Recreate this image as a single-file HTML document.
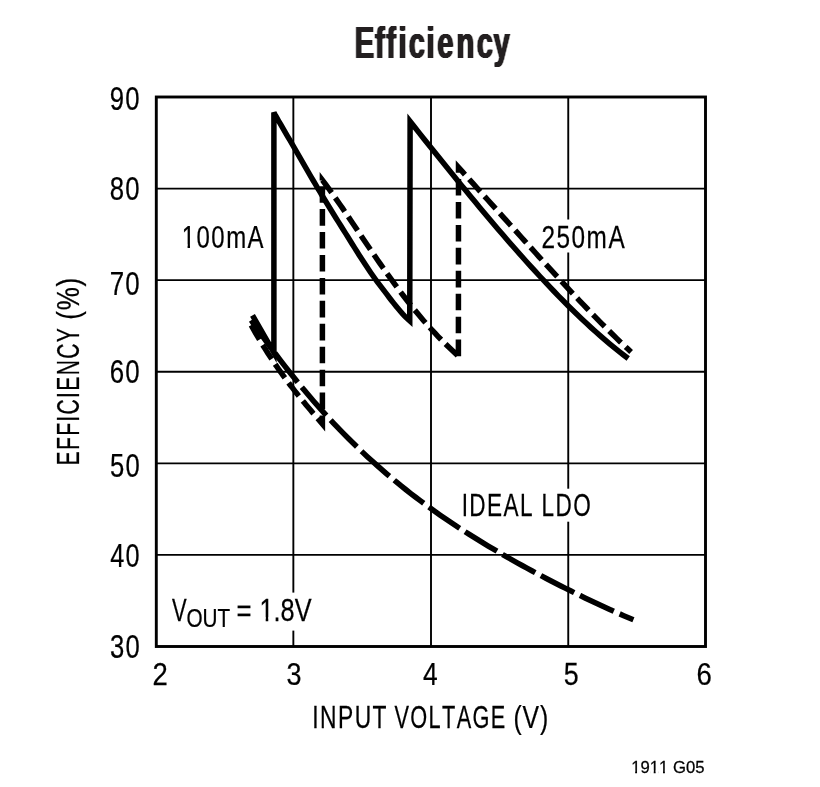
<!DOCTYPE html>
<html lang="en"><head><meta charset="utf-8"><title>Efficiency</title>
<style>
html,body{margin:0;padding:0;background:#fff;}
svg{display:block;}
text{font-family:"Liberation Sans",sans-serif;fill:#231f20;font-kerning:none;}
.t text{fill:#000;stroke:#000;stroke-width:0.25;}
.g line{stroke:#000;stroke-width:1.9;}
.c{fill:none;stroke:#000;stroke-width:5.5;stroke-linejoin:miter;stroke-miterlimit:4;stroke-linecap:butt;}
</style></head><body>
<svg width="820" height="787" viewBox="0 0 820 787">
<defs><filter id="bx" x="-5%" y="-10%" width="110%" height="120%" color-interpolation-filters="sRGB"><feConvolveMatrix in="SourceAlpha" order="3 1" kernelMatrix="0.55 1 0.55" divisor="1" edgeMode="none" result="a"/><feFlood flood-color="#231f20"/><feComposite operator="in" in2="a"/></filter></defs>
<rect width="820" height="787" fill="#fff"/>
<text transform="translate(0,57.8) scale(0.65,1)" x="545.94 577.05 594.36 613.04 628.98 656.27 672.86 702.47 733.60 759.40" font-size="45" font-weight="bold" filter="url(#bx)">Efficiency</text>
<g class="g"><line x1="293.35" y1="97.0" x2="293.35" y2="646.5"/><line x1="431.00" y1="97.0" x2="431.00" y2="646.5"/><line x1="568.25" y1="97.0" x2="568.25" y2="646.5"/><line x1="156.5" y1="188.58" x2="705.5" y2="188.58"/><line x1="156.5" y1="280.17" x2="705.5" y2="280.17"/><line x1="156.5" y1="371.75" x2="705.5" y2="371.75"/><line x1="156.5" y1="463.33" x2="705.5" y2="463.33"/><line x1="156.5" y1="554.92" x2="705.5" y2="554.92"/></g>
<rect x="540" y="219.5" width="88" height="33" fill="#fff"/>
<rect x="461" y="488.7" width="132" height="33" fill="#fff"/>
<rect x="169" y="592.6" width="146" height="38" fill="#fff"/>
<rect x="156.3" y="97.0" width="549.2" height="549.5" fill="none" stroke="#000" stroke-width="2.9"/>
<g class="t">
<text transform="translate(109.84,110.20) scale(0.7905,1)" font-size="32.6" letter-spacing="1.5">90</text>
<text transform="translate(109.84,200.10) scale(0.7905,1)" font-size="32.6" letter-spacing="1.5">80</text>
<text transform="translate(109.71,295.10) scale(0.7942,1)" font-size="32.6" letter-spacing="1.5">70</text>
<text transform="translate(109.71,383.10) scale(0.7942,1)" font-size="32.6" letter-spacing="1.5">60</text>
<text transform="translate(109.97,477.10) scale(0.7868,1)" font-size="32.6" letter-spacing="1.5">50</text>
<text transform="translate(110.37,566.80) scale(0.7760,1)" font-size="32.6" letter-spacing="1.5">40</text>
<text transform="translate(109.97,658.20) scale(0.7868,1)" font-size="32.6" letter-spacing="1.5">30</text>
<text transform="translate(152.53,685.00) scale(0.8585,1)" font-size="32">2</text>
<text transform="translate(286.52,685.00) scale(0.8444,1)" font-size="32">3</text>
<text transform="translate(422.94,685.00) scale(0.8250,1)" font-size="32">4</text>
<text transform="translate(563.68,685.00) scale(0.8388,1)" font-size="32">5</text>
<text transform="translate(696.62,685.00) scale(0.8628,1)" font-size="32">6</text>
<text transform="translate(181.70,247.90) scale(0.7485,1)" font-size="32" letter-spacing="2">100mA</text>
<rect transform="translate(181.70,247.90) scale(0.7485,1)" x="1.60" y="-3.42" width="6.23" height="4.82" fill="#fff"/><rect transform="translate(181.70,247.90) scale(0.7485,1)" x="11.08" y="-3.42" width="6.08" height="4.82" fill="#fff"/>
<text transform="translate(541.48,247.90) scale(0.7606,1)" font-size="32" letter-spacing="2">250mA</text>
<text transform="translate(461.67,516.10) scale(0.7050,1)" font-size="32" letter-spacing="2">IDEAL LDO</text>
<text transform="translate(171.99,620.70) scale(0.6870,1)" font-size="32">V</text>
<text transform="translate(186.47,627.30) scale(0.7974,1)" font-size="26">OUT</text>
<text transform="translate(236.61,620.70) scale(0.8054,1)" font-size="32">=</text>
<text transform="translate(259.50,620.70) scale(0.7911,1)" font-size="32">1.8V</text>
<rect transform="translate(259.50,620.70) scale(0.7911,1)" x="1.60" y="-3.42" width="6.23" height="4.82" fill="#fff"/><rect transform="translate(259.50,620.70) scale(0.7911,1)" x="11.08" y="-3.42" width="6.08" height="4.82" fill="#fff"/>
<text transform="translate(312.34,727.90) scale(0.7136,1)" font-size="32" letter-spacing="2">INPUT</text>
<text transform="translate(394.49,727.90) scale(0.6795,1)" font-size="32" letter-spacing="2">VOLTAGE</text>
<text transform="translate(513.61,727.90) scale(0.7736,1)" font-size="32" letter-spacing="1">(V)</text>
<text transform="translate(79.00,465.49) rotate(-90) scale(0.6601,1)" font-size="32" letter-spacing="2">EFFICIENCY</text>
<text transform="translate(79.00,319.76) rotate(-90) scale(0.8103,1)" font-size="32" letter-spacing="1">(%)</text>
</g>
<g class="t"><text transform="translate(631.15,772.80) scale(1.0122,1)" font-size="16.5">1911 G05</text>
<rect transform="translate(631.15,772.80) scale(1.0122,1)" x="0.83" y="-2.25" width="3.12" height="3.65" fill="#fff"/><rect transform="translate(631.15,772.80) scale(1.0122,1)" x="5.81" y="-2.25" width="3.14" height="3.65" fill="#fff"/>
<rect transform="translate(631.15,772.80) scale(1.0122,1)" x="19.18" y="-2.25" width="3.12" height="3.65" fill="#fff"/><rect transform="translate(631.15,772.80) scale(1.0122,1)" x="24.16" y="-2.25" width="3.14" height="3.65" fill="#fff"/>
<rect transform="translate(631.15,772.80) scale(1.0122,1)" x="28.35" y="-2.25" width="3.12" height="3.65" fill="#fff"/><rect transform="translate(631.15,772.80) scale(1.0122,1)" x="33.34" y="-2.25" width="3.14" height="3.65" fill="#fff"/>
</g>
<path class="c" d="M251.20,320.20 L256.04,327.13 L260.88,333.95 L265.71,340.66 L270.55,347.26 L270.85,347.67 M274.68,352.80 L275.39,353.75 L280.23,360.12 L285.07,366.39 L289.90,372.54 L294.74,378.59 L297.73,382.25 M301.80,387.19 L304.42,390.34 L309.26,396.06 L314.09,401.67 L318.93,407.17 L323.77,412.57 L326.35,415.39 M330.69,420.10 L333.45,423.05 L338.28,428.14 L343.12,433.13 L347.96,438.02 L352.80,442.82 L356.88,446.79 M361.51,451.21 L362.47,452.13 L367.31,456.65 L372.15,461.08 L376.99,465.42 L381.83,469.68 L386.66,473.85 L389.38,476.15 M394.28,480.25 L396.34,481.96 L401.18,485.90 L406.02,489.76 L410.85,493.55 L415.69,497.27 L420.53,500.92 L423.74,503.30 M428.90,507.08 L430.21,508.03 L435.04,511.49 L439.88,514.89 L444.72,518.23 L449.56,521.52 L454.39,524.75 L459.23,527.94 L459.72,528.25 M465.10,531.73 L468.91,534.16 L473.75,537.20 L478.58,540.20 L483.42,543.15 L488.26,546.07 L493.10,548.95 L497.00,551.24 M502.54,554.45 L502.77,554.59 L507.61,557.36 L512.45,560.10 L517.29,562.81 L522.13,565.49 L526.96,568.14 L531.80,570.76 L535.23,572.60 M540.88,575.61 L541.48,575.93 L546.32,578.47 L551.15,580.99 L555.99,583.48 L560.83,585.95 L565.67,588.40 L570.51,590.82 L574.18,592.64 M579.93,595.46 L580.18,595.58 L585.02,597.93 L589.86,600.25 L594.70,602.54 L599.53,604.80 L604.37,607.04 L609.21,609.24 L613.80,611.30 M619.66,613.89 L623.72,615.66 L628.56,617.72 L633.40,619.75"/>
<path class="c" d="M251.20,325.20 L252.71,327.93 L254.23,330.62 L255.74,333.27 L257.26,335.88 L258.77,338.46 L259.46,339.60 M262.74,345.03 L263.32,345.98 L264.83,348.41 L266.35,350.82 L267.86,353.19 L269.38,355.53 L270.89,357.84 L271.67,359.01 M275.22,364.27 L275.44,364.60 L276.95,366.79 L278.47,368.96 L279.98,371.11 L281.50,373.23 L283.01,375.32 L284.53,377.40 L284.83,377.80 M288.62,382.88 L289.07,383.48 L290.59,385.47 L292.10,387.44 L293.62,389.39 L295.13,391.32 L296.65,393.23 L298.16,395.13 L298.83,395.97 M302.83,400.89 L304.22,402.59 L305.74,404.42 L307.25,406.24 L308.77,408.05 L310.28,409.85 L311.80,411.64 L313.31,413.42 L313.48,413.62 M317.60,418.44 L317.86,418.73 L319.37,420.49 L320.89,422.25 L322.40,424.00 L322.40,415.54 M322.40,409.20 L322.40,392.60 M322.40,386.26 L322.40,369.66 M322.40,363.32 L322.40,346.72 M322.40,340.38 L322.40,323.78 M322.40,317.44 L322.40,300.84 M322.40,294.50 L322.40,277.90 M322.40,271.56 L322.40,254.96 M322.40,248.62 L322.40,232.02 M322.40,225.68 L322.40,209.08 M322.40,202.74 L322.40,186.14 M322.40,180.60 L322.40,180.20 L325.29,184.03 L328.19,187.94 L331.08,191.92 L331.60,192.64 M335.27,197.81 L336.87,200.08 L339.76,204.23 L342.66,208.43 L344.72,211.45 M348.29,216.70 L348.44,216.92 L351.34,221.21 L354.23,225.50 L357.12,229.81 L357.56,230.46 M361.10,235.73 L362.91,238.42 L365.80,242.72 L368.70,247.00 L370.39,249.49 M373.95,254.73 L374.49,255.50 L377.38,259.72 L380.27,263.90 L383.17,268.04 L383.40,268.38 M387.06,273.55 L388.95,276.21 L391.85,280.22 L394.74,284.19 L396.81,286.99 M400.61,292.07 L403.42,295.77 L406.31,299.51 L409.21,303.19 L410.79,305.17 M414.78,310.11 L415.00,310.37 L417.89,313.87 L420.78,317.30 L423.68,320.67 L425.51,322.76 M429.73,327.50 L432.36,330.38 L435.25,333.49 L438.14,336.53 L441.04,339.51 L441.11,339.58 M445.59,344.07 L446.83,345.30 L449.72,348.10 L452.61,350.85 L455.51,353.55 L457.63,355.50 M458.40,356.20 L458.41,339.60 M458.41,333.26 L458.42,316.66 M458.42,310.32 L458.43,293.72 M458.44,287.38 L458.45,270.78 M458.45,264.44 L458.46,247.84 M458.46,241.50 L458.47,224.90 M458.47,218.56 L458.48,201.96 M458.49,195.62 L458.49,179.02 M458.50,172.68 L458.50,167.40 L462.17,171.46 L464.96,174.55 M469.21,179.25 L469.52,179.59 L473.19,183.66 L476.86,187.74 L480.32,191.58 M484.57,196.29 L487.88,199.98 L491.55,204.06 L495.22,208.15 L495.66,208.64 M499.90,213.36 L502.57,216.33 L506.24,220.41 L509.91,224.50 L510.99,225.70 M515.23,230.42 L517.26,232.67 L520.93,236.75 L524.60,240.83 L526.34,242.76 M530.59,247.46 L531.95,248.96 L535.62,253.02 L539.29,257.08 L541.73,259.77 M546.00,264.45 L546.64,265.15 L550.31,269.18 L553.98,273.19 L557.21,276.70 M561.51,281.36 L565.00,285.13 L568.67,289.08 L572.34,293.01 L572.81,293.51 M577.16,298.13 L579.69,300.81 L583.36,304.67 L587.03,308.51 L588.61,310.15 M593.01,314.71 L594.38,316.11 L598.05,319.87 L601.72,323.59 L604.66,326.54 M609.15,331.02 L612.74,334.55 L616.41,338.13 L620.08,341.66 L621.05,342.58 M625.66,346.94 L627.43,348.60 L631.10,352.00"/>
<path class="c" d="M252.50,315.30 L273.90,352.70 L273.90,112.60 L274.85,114.36 L276.20,116.71 L278.51,120.75 L280.81,124.74 L283.11,128.69 L285.41,132.62 L287.72,136.53 L290.02,140.44 L292.32,144.37 L294.62,148.32 L296.93,152.29 L299.23,156.29 L301.53,160.30 L303.83,164.31 L306.14,168.32 L308.44,172.32 L310.74,176.30 L313.04,180.24 L315.35,184.16 L317.65,188.04 L319.95,191.89 L322.25,195.71 L324.56,199.51 L326.86,203.28 L329.16,207.03 L331.46,210.76 L333.77,214.48 L336.07,218.18 L338.37,221.87 L340.67,225.55 L342.98,229.23 L345.28,232.90 L347.58,236.58 L349.88,240.25 L352.19,243.94 L354.49,247.61 L356.79,251.28 L359.09,254.92 L361.40,258.53 L363.70,262.09 L366.00,265.61 L368.30,269.07 L370.61,272.46 L372.91,275.77 L375.21,279.00 L377.51,282.13 L379.82,285.19 L382.12,288.20 L384.42,291.20 L386.72,294.20 L389.03,297.22 L391.33,300.21 L393.63,303.15 L395.93,306.01 L398.24,308.80 L400.54,311.54 L402.84,314.18 L405.14,316.64 L407.45,318.85 L409.75,320.90 L410.10,121.40 L414.74,127.25 L419.38,133.10 L424.02,138.93 L428.66,144.74 L433.30,150.54 L437.94,156.32 L442.58,162.09 L447.22,167.84 L451.86,173.56 L456.50,179.27 L461.14,184.95 L465.79,190.61 L470.43,196.24 L475.07,201.85 L479.71,207.42 L484.35,212.97 L488.99,218.49 L493.63,223.97 L498.27,229.41 L502.91,234.82 L507.55,240.19 L512.19,245.52 L516.83,250.81 L521.47,256.05 L526.11,261.24 L530.75,266.38 L535.39,271.47 L540.03,276.51 L544.67,281.49 L549.31,286.41 L553.95,291.27 L558.59,296.07 L563.23,300.80 L567.87,305.46 L572.51,310.05 L577.16,314.57 L581.80,319.01 L586.44,323.37 L591.08,327.64 L595.72,331.83 L600.36,335.93 L605.00,339.94 L609.64,343.86 L614.28,347.67 L618.92,351.39 L623.56,355.00 L628.20,358.50"/>
</svg>
</body></html>
